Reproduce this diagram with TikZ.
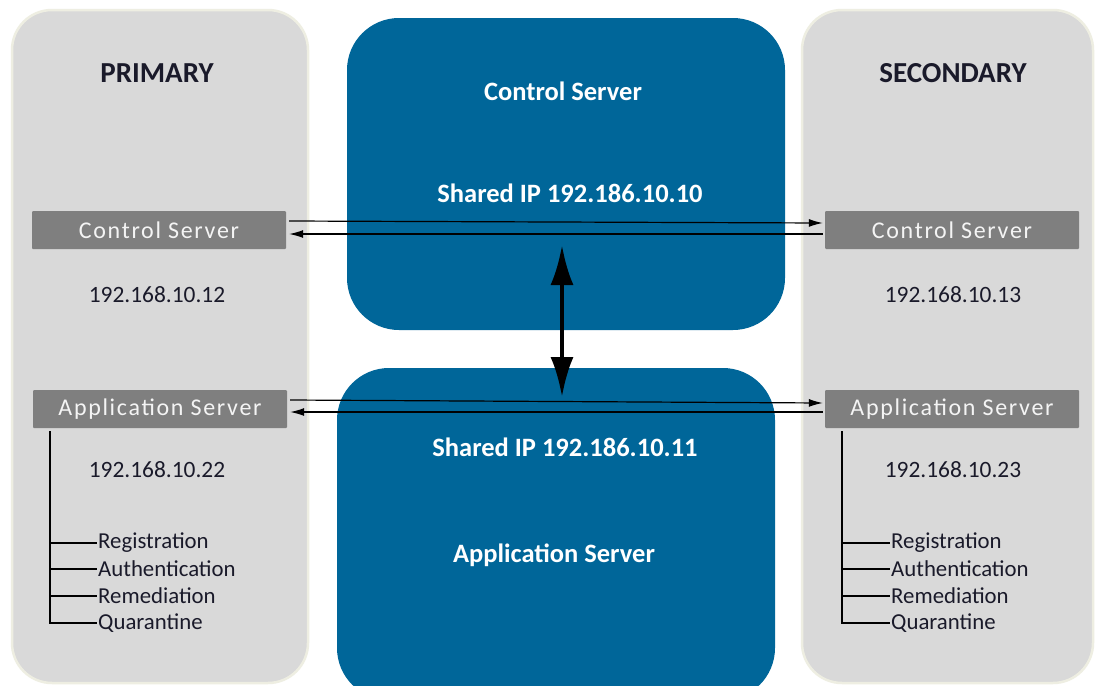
\documentclass[tikz,border=0pt]{standalone}
\usepackage{fontspec}
\setmainfont{Carlito}
\usetikzlibrary{arrows.meta}
\definecolor{panelfill}{HTML}{D9D9D9}
\definecolor{panelrim}{HTML}{EEEEE2}
\definecolor{serverblue}{HTML}{006699}
\definecolor{tabgray}{HTML}{7F7F7F}
\definecolor{tabtext}{HTML}{F4F4F4}
\definecolor{inktext}{HTML}{1A1A2A}
\tikzset{
  panel/.style={fill=panelfill, draw=panelrim, line width=2.5pt, rounded corners=40pt},
  bluebox/.style={fill=serverblue, draw=none, rounded corners=52pt},
  tab/.style={fill=tabgray, draw=none, rounded corners=1pt, text=tabtext,
    minimum width=254pt, minimum height=38pt, inner sep=0pt,
    font=\fontsize{24}{27}\selectfont\addfontfeatures{LetterSpace=7}},
  heading/.style={text=inktext, font=\fontsize{29}{32}\selectfont\bfseries},
  bluetext/.style={text=white, font=\fontsize{26.5}{30}\selectfont\bfseries},
  iptext/.style={text=inktext, font=\fontsize{23.4}{26}\selectfont},
  leaf/.style={text=inktext, anchor=west, inner sep=1pt, font=\fontsize{22.8}{25}\selectfont},
  link/.style={line width=1.2pt, -{Latex[length=14pt,width=8pt]}},
  tree/.style={line width=1.4pt},
  sync/.style={line width=4.5pt, {Latex[length=40pt,width=23pt]}-{Latex[length=40pt,width=23pt]}}
}
\begin{document}
\begin{tikzpicture}[x=1pt,y=-1pt]
\useasboundingbox (0,0) rectangle (1096,686);
\fill[white] (0,0) rectangle (1096,686);

% site panels
\draw[panel] (12,10) rectangle (308,683);
\draw[panel] (802,10) rectangle (1093,683);

% shared servers in the middle
\fill[bluebox] (347,18) rectangle (785,330);
\begin{scope}
  \clip (0,0) rectangle (1096,686);
  \fill[bluebox] (337,368) rectangle (775,700);
\end{scope}

% headings
\node[heading] (prim) at (157,73) {PRIMARY};
\node[heading] (sec) at (953,73) {SECONDARY};

% labels inside the shared servers
\node[bluetext] (cstitle) at (563,91) {Control Server};
\node[bluetext] (csip) at (570,193) {Shared IP 192.186.10.10};
\node[bluetext] (asip) at (565,447) {Shared IP 192.186.10.11};
\node[bluetext] (astitle) at (554,555) {Application Server};

% server tabs
\node[tab] (pcs) at (159,230) {Control Server};
\node[tab] (pas) at (160,409) {Application Server};
\node[tab] (scs) at (952,230) {Control Server};
\node[tab] (sas) at (952,409) {Application Server};

% addresses
\node[iptext] (pcsip) at (157,295) {192.168.10.12};
\node[iptext] (scsip) at (953,295) {192.168.10.13};
\node[iptext] (pasip) at (157,470) {192.168.10.22};
\node[iptext] (sasip) at (953,470) {192.168.10.23};

% links between primary and secondary (shifts are in canvas units, up is positive)
\coordinate (pcsa) at ([xshift=3pt,yshift=9pt]pcs.east);
\coordinate (pcsb) at ([xshift=3pt,yshift=-4pt]pcs.east);
\coordinate (scsa) at ([xshift=-2pt,yshift=7pt]scs.west);
\coordinate (scsb) at ([xshift=-2pt,yshift=-4pt]scs.west);
\draw[link] (pcsa) -- (scsa);
\draw[link] (scsb) -- (pcsb);

\coordinate (pasa) at ([xshift=3pt,yshift=9pt]pas.east);
\coordinate (pasb) at ([xshift=3pt,yshift=-3pt]pas.east);
\coordinate (sasa) at ([xshift=-2pt,yshift=6pt]sas.west);
\coordinate (sasb) at ([xshift=-2pt,yshift=-3pt]sas.west);
\draw[link] (pasa) -- (sasa);
\draw[link] (sasb) -- (pasb);

% shared control server <-> shared application server
\coordinate (up) at (562,245);
\coordinate (down) at (562,397);
\draw[sync] (up) -- (down);

% application functions, primary
\node[leaf] (p1) at (97,543) {Registration};
\node[leaf] (p2) at (97,569) {Authentication};
\node[leaf] (p3) at (97,596) {Remediation};
\node[leaf] (p4) at (97,623) {Quarantine};
\coordinate (ptop) at (50,431);
\draw[tree] (ptop) |- (p4.west);
\foreach \n in {p1,p2,p3} \draw[tree] (ptop |- \n.west) -- (\n.west);

% application functions, secondary
\node[leaf] (s1) at (890,543) {Registration};
\node[leaf] (s2) at (890,569) {Authentication};
\node[leaf] (s3) at (890,596) {Remediation};
\node[leaf] (s4) at (890,623) {Quarantine};
\coordinate (stop) at (842,431);
\draw[tree] (stop) |- (s4.west);
\foreach \n in {s1,s2,s3} \draw[tree] (stop |- \n.west) -- (\n.west);
\end{tikzpicture}
\end{document}
